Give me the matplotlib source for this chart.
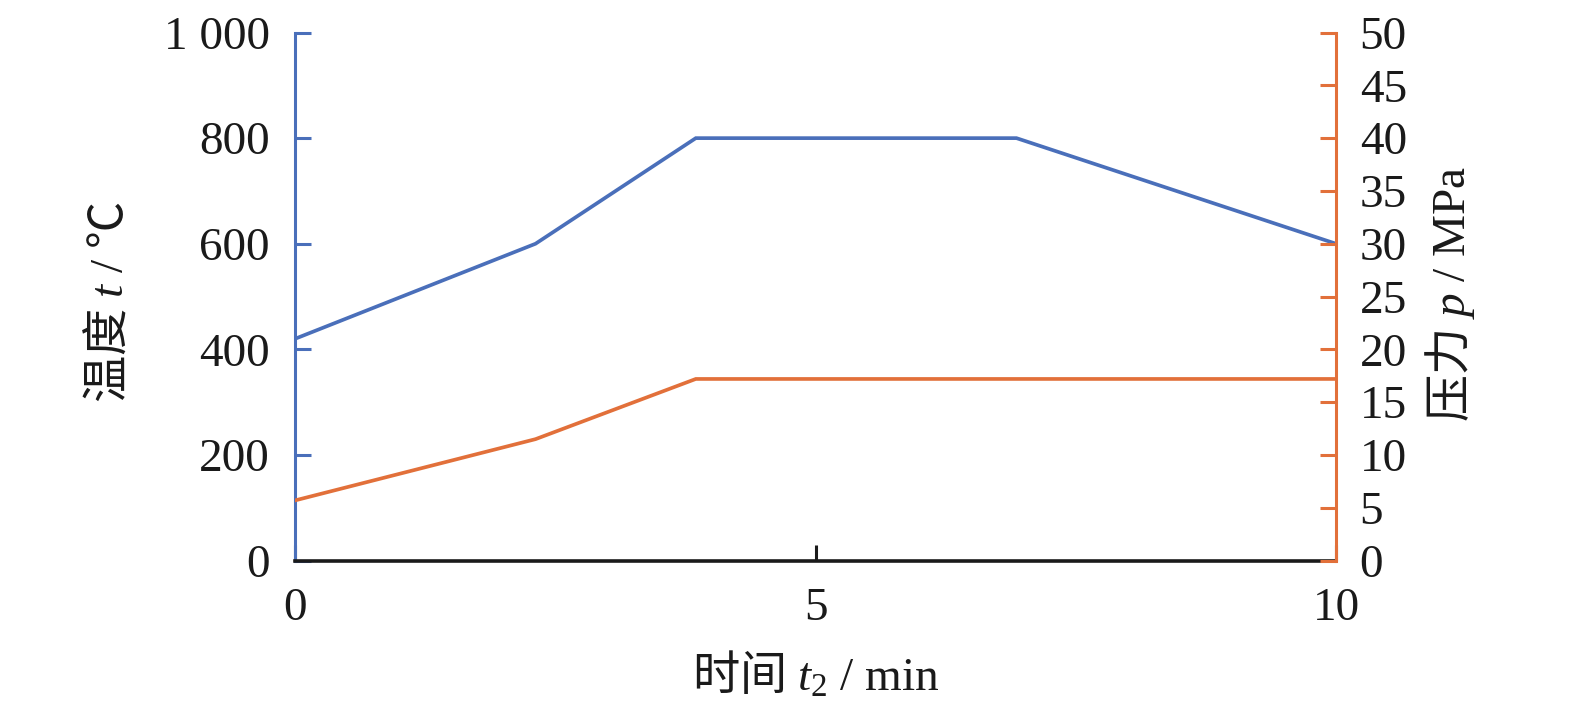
import matplotlib
matplotlib.use('Agg')
import matplotlib.pyplot as plt

plt.rcParams['font.family'] = ['Liberation Serif', 'Noto Sans CJK SC', 'DejaVu Sans']
# mathtext: serif for latin, italic serif for variables, CJK font via \mathsf
plt.rcParams['mathtext.fontset'] = 'custom'
plt.rcParams['mathtext.rm'] = 'Liberation Serif'
plt.rcParams['mathtext.it'] = 'Liberation Serif:italic'
plt.rcParams['mathtext.sf'] = 'Noto Sans CJK SC'

# data
time_min = [0, 2.31, 3.85, 6.93, 10]
temperature = [420, 600, 800, 800, 600]

time_p = [0, 2.31, 3.85, 10]
pressure = [5.7, 11.5, 17.2, 17.2]

temp_ticks = [0, 200, 400, 600, 800, 1000]
temp_ticklabels = ['0', '200', '400', '600', '800', '1 000']
p_ticks = [0, 5, 10, 15, 20, 25, 30, 35, 40, 45, 50]
x_ticks = [0, 5, 10]

blue = '#4a6fba'
orange = '#e2703a'
fs = 34

fig = plt.figure(figsize=(15.75, 7.16), dpi=100)
ax = fig.add_axes([0.1873, 0.217, 0.661, 0.7376])
ax2 = ax.twinx()

ax.plot(time_min, temperature, color=blue, lw=2.65, solid_joinstyle='miter', zorder=3)
ax2.plot(time_p, pressure, color=orange, lw=2.65, solid_joinstyle='miter', zorder=3)

ax.set_xlim(0, 10)
ax.set_ylim(0, 1000)
ax2.set_ylim(0, 50)

ax.set_xticks(x_ticks)
ax.set_xticklabels([str(v) for v in x_ticks])
ax.set_yticks(temp_ticks)
ax.set_yticklabels(temp_ticklabels)
ax2.set_yticks(p_ticks)
ax2.set_yticklabels([str(v) for v in p_ticks])

for a in (ax, ax2):
    a.spines['top'].set_visible(False)
ax.spines['right'].set_visible(False)
ax2.spines['left'].set_visible(False)
ax2.spines['bottom'].set_visible(False)

ax.spines['left'].set_color(blue)
ax.spines['left'].set_linewidth(2.2)
ax.spines['bottom'].set_color('#1a1a1a')
ax.spines['bottom'].set_linewidth(2.6)
ax2.spines['right'].set_color(orange)
ax2.spines['right'].set_linewidth(2.2)

ax.tick_params(axis='y', direction='in', length=11.5, width=2.2, color=blue,
               labelsize=fs, pad=18, labelcolor='#1a1a1a')
ax.tick_params(axis='x', direction='in', length=11.5, width=2.2, color='#1a1a1a',
               labelsize=fs, pad=19, labelcolor='#1a1a1a')
ax2.tick_params(axis='y', direction='in', length=11.5, width=2.2, color=orange,
                labelsize=fs, pad=17, labelcolor='#1a1a1a')

ax.set_xlabel(r'$\mathsf{时间}\ t_2\ \mathrm{/\ min}$', fontsize=fs, va='center', color='#1a1a1a')
ax.xaxis.set_label_coords(0.5, -0.217)
ax.set_ylabel(r'$\mathsf{温度}\ t\ \mathrm{/}\ \mathsf{℃}$', fontsize=fs, va='center', color='#1a1a1a')
ax.yaxis.set_label_coords(-0.178, 0.49)
ax2.set_ylabel(r'$\mathsf{压力}\ p\ \mathrm{/\ MPa}$', fontsize=fs, va='center', rotation=90, color='#1a1a1a')
ax2.yaxis.set_label_coords(1.1095, 0.505)

fig.savefig('out.png', dpi=100)
